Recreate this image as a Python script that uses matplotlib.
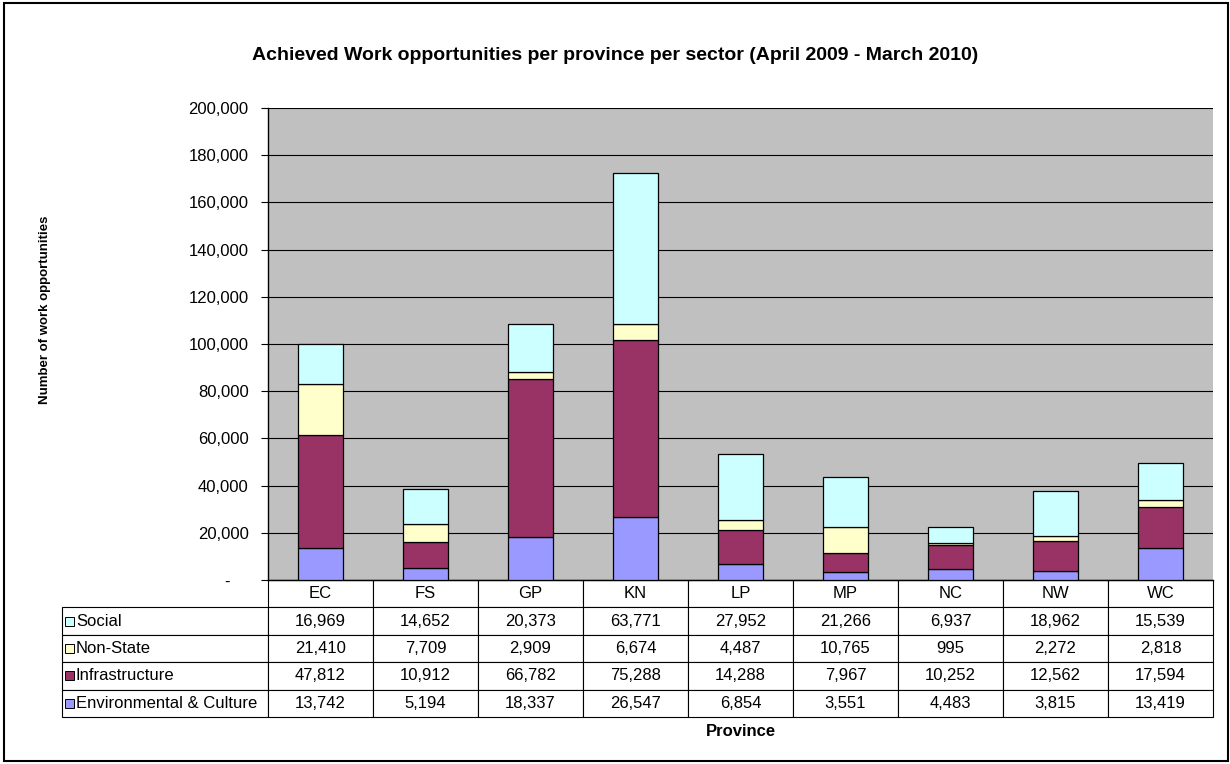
import numpy as np
import matplotlib.pyplot as plt
from matplotlib.patches import Rectangle
from matplotlib.ticker import FuncFormatter

plt.rcParams['font.family'] = ['Liberation Sans', 'DejaVu Sans']

provinces = ['EC', 'FS', 'GP', 'KN', 'LP', 'MP', 'NC', 'NW', 'WC']
env_culture = [13742, 5194, 18337, 26547, 6854, 3551, 4483, 3815, 13419]
infrastructure = [47812, 10912, 66782, 75288, 14288, 7967, 10252, 12562, 17594]
non_state = [21410, 7709, 2909, 6674, 4487, 10765, 995, 2272, 2818]
social = [16969, 14652, 20373, 63771, 27952, 21266, 6937, 18962, 15539]

sectors = ['Environmental & Culture', 'Infrastructure', 'Non-State', 'Social']
series = [env_culture, infrastructure, non_state, social]
colors = ['#9999FF', '#993366', '#FFFFCC', '#CCFFFF']

W, H = 1230, 764
fig = plt.figure(figsize=(W / 100, H / 100), dpi=100)

# outer frame
fig.patches.append(Rectangle((4 / W, 3 / H), 1224 / W, 758 / H, transform=fig.transFigure,
                             fill=False, edgecolor='black', linewidth=1.5))

ax_l, ax_r, ax_t, ax_b = 268, 1213, 108, 580
ax = fig.add_axes([ax_l / W, 1 - ax_b / H, (ax_r - ax_l) / W, (ax_b - ax_t) / H])
ax.set_facecolor('#C0C0C0')

x = np.arange(len(provinces))
bottom = np.zeros(len(provinces))
for vals, c in zip(series, colors):
    ax.bar(x, vals, 0.42, bottom=bottom, color=c, edgecolor='black', linewidth=0.9, zorder=3)
    bottom += np.array(vals)

ax.set_xlim(-0.5, len(provinces) - 0.5)
ax.set_ylim(0, 200000)
ax.set_yticks(np.arange(0, 200001, 20000))
# accounting style: zero shows as a dash
ax.yaxis.set_major_formatter(FuncFormatter(lambda v, p: '-    ' if v == 0 else f'{int(v):,}'))
ax.tick_params(axis='y', labelsize=12, length=5, width=0.8, pad=9)
ax.set_xticks([])
ax.grid(axis='y', color='black', linewidth=0.8, zorder=0)
for s in ['top', 'right']:
    ax.spines[s].set_visible(False)
for s in ['left', 'bottom']:
    ax.spines[s].set_linewidth(1.0)

# data table under the bars, first column holds the sector names
tbl_left, tbl_bottom = 62, 717
axw, axh = ax_r - ax_l, ax_b - ax_t
row_names = sectors[::-1]
cell_text = [[name] + [f'{v:,}' for v in vals] for name, vals in zip(row_names, series[::-1])]
label_w = (ax_l - tbl_left) / axw
col_w = 1.0 / len(provinces)
tbl = ax.table(cellText=cell_text,
               colLabels=[''] + provinces,
               cellLoc='center', colLoc='center',
               colWidths=[label_w] + [col_w] * len(provinces),
               bbox=[-label_w, -(tbl_bottom - ax_b) / axh, 1 + label_w, (tbl_bottom - ax_b) / axh])
tbl.auto_set_font_size(False)
tbl.set_fontsize(12)
for (r, c), cell in tbl.get_celld().items():
    cell.set_linewidth(0.8)
    if c == 0:
        if r == 0:
            cell.set_visible(False)
        else:
            cell.PAD = 14 / (ax_l - tbl_left)
            cell.get_text().set_ha('left')

# legend swatches inside the sector name cells
row_h = (tbl_bottom - ax_b) / 5
for i, c in enumerate(colors[::-1]):
    y_c = ax_b + row_h * (i + 1.5)
    ax.add_patch(Rectangle(((tbl_left + 3 - ax_l) / axw, (ax_b - y_c - 4.5) / axh),
                           9 / axw, 9 / axh, transform=ax.transAxes, clip_on=False,
                           facecolor=c, edgecolor='black', linewidth=0.7, zorder=5))

fig.text(615 / W, 1 - 55 / H, 'Achieved Work opportunities per province per sector (April 2009 - March 2010)',
         ha='center', va='center', fontsize=14, fontweight='bold')
fig.text(45 / W, 1 - 310 / H, 'Number of work opportunities', rotation=90,
         ha='center', va='center', fontsize=9.5, fontweight='bold')
fig.text((ax_l + ax_r) / 2 / W, 1 - 732 / H, 'Province',
         ha='center', va='center', fontsize=12, fontweight='bold')

fig.savefig('out.png', dpi=100)
